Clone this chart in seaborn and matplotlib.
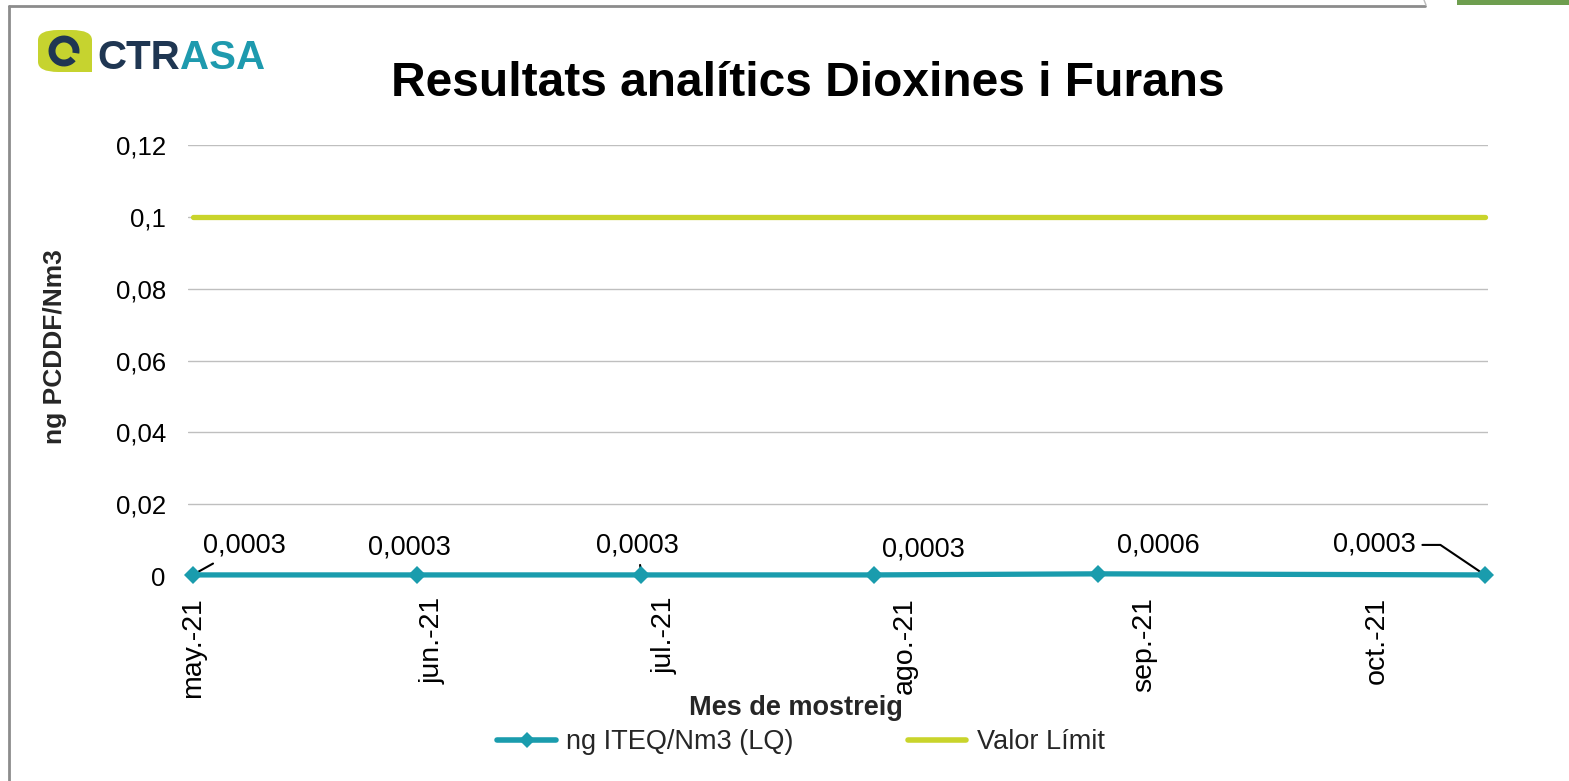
import matplotlib
matplotlib.use("Agg")
import matplotlib.pyplot as plt
import matplotlib.dates as mdates
from matplotlib.patches import FancyBboxPatch, Rectangle, Arc
from matplotlib.lines import Line2D
import seaborn as sns
import pandas as pd

# ---------------- data ----------------
sample_dates = ["2021-05-01", "2021-05-30", "2021-06-28", "2021-07-28", "2021-08-26", "2021-10-15"]
iteq_values = [0.0003, 0.0003, 0.0003, 0.0003, 0.0006, 0.0003]
value_labels = ["0,0003", "0,0003", "0,0003", "0,0003", "0,0006", "0,0003"]
limit_values = [0.1, 0.1, 0.1, 0.1, 0.1, 0.1]
month_ticks = ["2021-05-01", "2021-06-01", "2021-07-01", "2021-08-01", "2021-09-01", "2021-10-01"]
month_labels = ["may.-21", "jun.-21", "jul.-21", "ago.-21", "sep.-21", "oct.-21"]
y_ticks = [0, 0.02, 0.04, 0.06, 0.08, 0.1, 0.12]
y_tick_labels = ["0", "0,02", "0,04", "0,06", "0,08", "0,1", "0,12"]
series_names = ["ng ITEQ/Nm3 (LQ)", "Valor Límit"]
title = "Resultats analítics Dioxines i Furans"
x_title = "Mes de mostreig"
y_title = "ng PCDDF/Nm3"

dates = pd.to_datetime(sample_dates)
df = pd.DataFrame({"date": dates, "iteq": iteq_values, "limit": limit_values})

sns.set_theme(style="white")
plt.rcParams["font.family"] = ["Liberation Sans", "DejaVu Sans"]

W, H = 1569, 781
fig = plt.figure(figsize=(W / 100, H / 100), dpi=100)
fig.patch.set_facecolor("white")

ax = fig.add_axes([188 / W, 1 - 576 / H, (1488 - 188) / W, (576 - 145) / H])

TEAL = "#1A9CAD"
LIME = "#C9D42B"

sns.lineplot(data=df, x="date", y="limit", ax=ax, color=LIME, linewidth=3.8,
             solid_capstyle="round", zorder=3, clip_on=False)
sns.lineplot(data=df, x="date", y="iteq", ax=ax, color=TEAL, linewidth=3.8,
             marker="D", markersize=9.5, markeredgewidth=0, zorder=4, clip_on=False)

first = mdates.date2num(dates[0])
last = mdates.date2num(dates[-1])
ax.set_xlim(first - 0.6, last + 0.4)
ax.set_ylim(0, 0.12)
ax.set_yticks(y_ticks)
ax.set_yticklabels(y_tick_labels)
ax.set_xticks(mdates.date2num(pd.to_datetime(month_ticks)))
ax.set_xticklabels(month_labels, rotation=90)
ax.tick_params(axis="y", length=0, pad=16, labelsize=18.5, labelcolor="#000000")
ax.tick_params(axis="x", length=0, pad=15, labelsize=20.5, labelcolor="#000000")
ax.grid(axis="y", color="#BFBFBF", linewidth=1)
ax.grid(axis="x", visible=False)
for s in ax.spines.values():
    s.set_visible(False)
ax.set_xlabel(x_title, fontsize=19.5, fontweight="bold")
ax.set_ylabel(y_title, fontsize=19, fontweight="bold")
ax.xaxis.set_label_coords((796 - 188) / (1488 - 188), -(708 - 576) / (576 - 145))
ax.yaxis.set_label_coords(-(188 - 55) / (1488 - 188), (576 - 347) / (576 - 145))
ax.xaxis.label.set_va("center")
ax.yaxis.label.set_va("center")

# data labels (offsets in pixels)
offsets = [(52, 29), (-8, 27), (-4, 29), (50, 25), (60, 28), (-110, 30)]
leaders = [True, False, True, False, False, True]
for i, (d, v, lab) in enumerate(zip(dates, iteq_values, value_labels)):
    kw = {}
    if leaders[i]:
        cs = "angle,angleA=0,angleB=146,rad=0" if i == len(dates) - 1 else "arc3"
        kw["arrowprops"] = dict(arrowstyle="-", color="black", lw=1.5,
                                shrinkA=2, shrinkB=1, connectionstyle=cs)
    ax.annotate(lab, xy=(mdates.date2num(d), v), xytext=offsets[i],
                textcoords="offset pixels", ha="center", va="center",
                fontsize=19.5, color="black", annotation_clip=False, **kw)

# title
fig.text(808 / W, 1 - 83 / H, title, ha="center", va="center",
         fontsize=34.5, fontweight="bold", color="black")

# legend
handles = [
    Line2D([], [], color=TEAL, lw=4, marker="D", markersize=8, markeredgewidth=0,
           solid_capstyle="round"),
    Line2D([], [], color=LIME, lw=4, solid_capstyle="round"),
]
fig.legend(handles, series_names, loc="center", bbox_to_anchor=(801 / W, 1 - 742 / H),
           ncol=2, frameon=False, fontsize=19.5, handlelength=2.15, handletextpad=0.4,
           columnspacing=4.2, borderpad=0)

# logo
LOGO_G = "#C6D32F"
NAVY = "#1F3652"
fig.patches.append(FancyBboxPatch((38 / W, 1 - 72 / H), 54 / W, 42 / H,
                                  boxstyle="round,pad=0,rounding_size=0.013",
                                  transform=fig.transFigure, facecolor=LOGO_G,
                                  edgecolor="none"))
fig.patches.append(Rectangle((72 / W, 1 - 72 / H), 20 / W, 18 / H,
                             transform=fig.transFigure, facecolor=LOGO_G,
                             edgecolor="none"))
fig.patches.append(Arc((64 / W, 1 - 51 / H), 24 / W, 24 / H, theta1=-20, theta2=300,
                       transform=fig.transFigure, edgecolor=NAVY, linewidth=5))
t1 = fig.text(97 / W, 1 - 58 / H, "CTR", ha="left", va="center", fontsize=29,
              fontweight="bold", color=NAVY)
fig.canvas.draw()
bb = t1.get_window_extent()
fig.text(bb.x1 / W, 1 - 58 / H, "ASA", ha="left", va="center", fontsize=29,
         fontweight="bold", color="#1E9AAE")

# screenshot frame remnants
fig.add_artist(Line2D([9 / W, 9 / W], [0, 1 - 6 / H], transform=fig.transFigure,
                      color="#8C8C8C", lw=2))
fig.add_artist(Line2D([9 / W, 1425 / W], [1 - 6 / H, 1 - 6 / H], transform=fig.transFigure,
                      color="#8C8C8C", lw=2))
fig.add_artist(Line2D([1424 / W, 1426 / W], [1, 1 - 5 / H], transform=fig.transFigure,
                      color="#BBBBBB", lw=1))
fig.patches.append(Rectangle((1457 / W, 1 - 5 / H), (W - 1457) / W, 5 / H,
                             transform=fig.transFigure, facecolor="#6E9E4F",
                             edgecolor="none"))

fig.savefig("out.png", dpi=100, facecolor="white")
